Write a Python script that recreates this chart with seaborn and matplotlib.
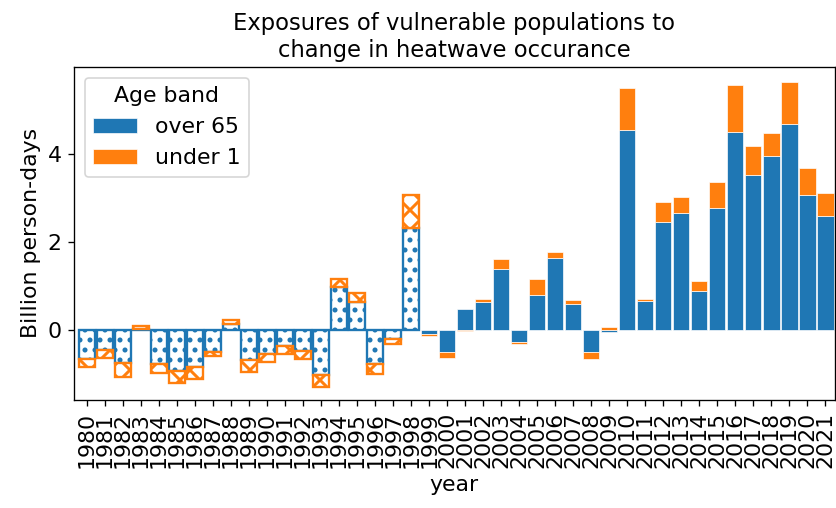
import numpy as np
import pandas as pd
import matplotlib
matplotlib.use("Agg")
import matplotlib.pyplot as plt
from matplotlib.patches import Patch
import seaborn as sns

years = list(range(1980, 2022))
over_65 = [-0.65, -0.44, -0.75, 0.03, -0.77, -0.92, -0.84, -0.50, 0.13, -0.68,
           -0.53, -0.36, -0.47, -1.02, 0.98, 0.64, -0.77, -0.19, 2.32, -0.075,
           -0.50, 0.49, 0.64, 1.38, -0.27, 0.80, 1.63, 0.60, -0.50, -0.04,
           4.53, 0.65, 2.45, 2.65, 0.88, 2.77, 4.49, 3.52, 3.94, 4.66,
           3.06, 2.59]
under_1 = [-0.19, -0.18, -0.32, 0.06, -0.21, -0.28, -0.26, -0.09, 0.11, -0.26,
           -0.18, -0.17, -0.19, -0.26, 0.18, 0.20, -0.22, -0.13, 0.74, -0.06,
           -0.14, -0.02, 0.07, 0.24, -0.05, 0.37, 0.14, 0.09, -0.16, 0.07,
           0.96, 0.06, 0.45, 0.36, 0.23, 0.58, 1.07, 0.65, 0.53, 0.95,
           0.62, 0.52]
series_names = ["over 65", "under 1"]
hatched_until = 1998

blue = "#1f77b4"
orange = "#ff7f0e"

DPI = 120
plt.rcParams["font.size"] = 13.2
plt.rcParams["hatch.linewidth"] = 1.8

df = pd.DataFrame({"year": [str(y) for y in years],
                   "over 65": over_65, "under 1": under_1})
o = np.array(over_65)
u = np.array(under_1)
bottom_u = np.where(np.sign(o) == np.sign(u), o, 0.0)

fig, ax = plt.subplots(figsize=(836 / DPI, 508 / DPI), dpi=DPI)

sns.barplot(data=df, x="year", y="over 65", color=blue, saturation=1,
            width=0.9, errorbar=None, edgecolor="white", linewidth=0.4, ax=ax)
sns.barplot(data=df, x="year", y="under 1", color=orange, saturation=1,
            width=0.9, errorbar=None, edgecolor="white", linewidth=0.4,
            bottom=bottom_u, ax=ax)

n = len(years)
patches = ax.patches
for i, yr in enumerate(years):
    if yr <= hatched_until:
        p = patches[i]
        p.set_facecolor("white")
        p.set_edgecolor(blue)
        p.set_hatch("..")
        p.set_linewidth(1.4)
        q = patches[n + i]
        q.set_facecolor("white")
        q.set_edgecolor(orange)
        q.set_hatch("xx")
        q.set_linewidth(1.4)

ax.set_xlim(-0.74, 41.53)
ax.set_ylim(-1.58, 5.97)
ax.set_yticks([0, 2, 4])
ax.tick_params(axis="x", labelrotation=90)
ax.set_xlabel("year")
ax.set_ylabel("Billion person-days")
ax.set_title("Exposures of vulnerable populations to\nchange in heatwave occurance",
             fontsize=13.6)

handles = [Patch(facecolor=blue, edgecolor="white", linewidth=0.4),
           Patch(facecolor=orange, edgecolor="white", linewidth=0.4)]
ax.legend(handles, series_names, title="Age band", loc="upper left")

fig.subplots_adjust(left=73.5 / 836, right=835 / 836, top=1 - 66.5 / 508,
                    bottom=1 - 400 / 508)
fig.savefig("out.png", dpi=DPI)
